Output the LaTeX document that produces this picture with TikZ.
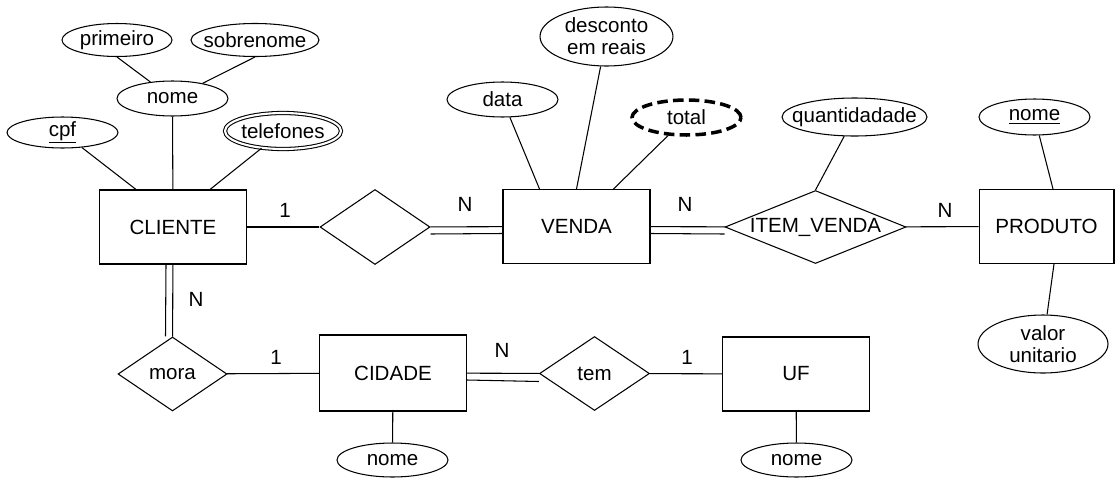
\documentclass[tikz,border=0pt]{standalone}
\usepackage{fontspec}
\setmainfont{Liberation Sans}
\usetikzlibrary{shapes.geometric}
\tikzset{
  entidade/.style={draw, rectangle, minimum width=2.94cm, minimum height=1.48cm, inner sep=0pt},
  relac/.style={draw, diamond, aspect=1.5, minimum width=2.2cm, minimum height=1.48cm, inner xsep=-2em, inner ysep=0pt},
  atrib/.style={draw, ellipse, minimum width=2.22cm, minimum height=0.66cm, inner xsep=-1.5em, inner ysep=-0.3em, align=center},
  card/.style={inner sep=0pt},
}
\begin{document}
\begin{tikzpicture}[x=0.02cm,y=-0.02cm,line width=0.6pt,font=\fontsize{11.7}{12.6}\selectfont]
		\useasboundingbox (0,0) rectangle (1115,477);
		% entidades
		\node[entidade] (cliente) at (173,227) {CLIENTE};
		\node[entidade] (venda) at (576.5,226.5) {VENDA};
		\node[entidade, minimum width=2.7cm] (produto) at (1046.5,226.5) {PRODUTO};
		\node[entidade, minimum height=1.52cm] (cidade) at (393,373) {CIDADE};
		\node[entidade] (uf) at (796,374) {UF};
		% relacionamentos
		\node[relac, minimum height=1.5cm] (faz) at (375,227) {};
		\node[relac, minimum width=3.62cm, minimum height=1.46cm] (itemvenda) at (815.5,227) {ITEM\_VENDA};
		\node[relac, minimum width=2.18cm] (mora) at (172.5,374) {mora};
		\node[relac] (tem) at (594.5,373.5) {tem};
		% atributos
		\node[atrib, minimum width=2.2cm, minimum height=0.66cm] (primeiro) at (117,40) {primeiro};
		\node[atrib, minimum width=2.56cm, minimum height=0.66cm] (sobrenome) at (255,40) {sobrenome};
		\node[atrib, minimum height=0.7cm] (nome) at (172.5,98.5) {nome};
		\node[atrib, minimum height=0.62cm] (cpf) at (62.5,132.5) {\underline{cpf}};
		\node[atrib, double, double distance=1.2pt, minimum width=2.32cm, minimum height=0.72cm] (telefones) at (283,131) {telefones};
		\node[atrib, minimum height=0.7cm] (data) at (502.5,99.5) {data};
		\node[atrib, minimum width=2.66cm, minimum height=1.18cm] (desconto) at (606.5,36.5) {desconto\\em reais};
		\node[atrib, dashed, line width=2pt, dash pattern=on 6pt off 3pt, minimum width=2.18cm, minimum height=0.7cm] (total) at (686.5,117.5) {total};
		\node[atrib, minimum width=2.9cm, minimum height=0.76cm] (quantidade) at (854.5,117) {quantidadade};
		\node[atrib, minimum height=0.72cm] (pnome) at (1034.5,117) {\underline{nome}};
		\node[atrib, minimum width=2.6cm, minimum height=1.16cm] (valor) at (1043,344) {valor\\unitario};
		\node[atrib, minimum height=0.68cm] (cnome) at (392.5,460) {nome};
		\node[atrib, minimum height=0.68cm] (ufnome) at (796.5,460) {nome};
		% cardinalidades
		\node[card] (c1) at (285,210) {1};
		\node[card] (c2) at (465,204) {N};
		\node[card] (c3) at (685,204) {N};
		\node[card] (c4) at (945,210) {N};
		\node[card] (c5) at (196,299) {N};
		\node[card] (c6) at (276,357) {1};
		\node[card] (c7) at (502,350) {N};
		\node[card] (c8) at (687,357) {1};
		% ligacoes
		\draw (primeiro.south) -- (nome);
		\draw (sobrenome.south) -- (nome);
		\draw (cpf) -- ([xshift=-0.74cm]cliente.north);
		\draw (nome) -- (cliente);
		\draw (telefones) -- ([xshift=0.74cm]cliente.north);
		\draw (cliente) -- (faz);
		\draw (faz) -- (venda);
		\draw ([yshift=-0.14cm]faz.east) -- ([yshift=-0.14cm]venda.west);
		\draw (data) -- ([xshift=-0.74cm]venda.north);
		\draw (desconto) -- (venda.north);
		\draw (total) -- ([xshift=0.74cm]venda.north);
		\draw (venda) -- (itemvenda);
		\draw ([yshift=-0.14cm]venda.east) -- ([yshift=-0.14cm]itemvenda.west);
		\draw (quantidade) -- (itemvenda.north);
		\draw (itemvenda) -- (produto);
		\draw (pnome) -- ([xshift=0.13cm]produto.north);
		\draw (valor) -- ([xshift=0.15cm]produto.south);
		\draw (cliente) -- (mora);
		\draw ([xshift=-0.14cm]cliente.south) -- ([xshift=-0.14cm]mora.north);
		\draw (mora) -- (cidade);
		\draw (cidade) -- (tem);
		\draw ([yshift=-0.14cm]cidade.east) -- ([yshift=-0.16cm]tem.west);
		\draw (tem) -- (uf);
		\draw (cidade) -- (cnome);
		\draw (uf) -- (ufnome);
\end{tikzpicture}
\end{document}
